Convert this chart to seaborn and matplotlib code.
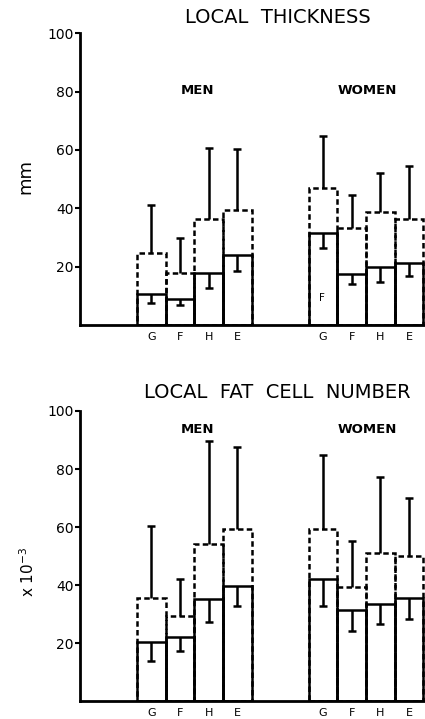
import numpy as np
import pandas as pd
import matplotlib
matplotlib.use("Agg")
import matplotlib.pyplot as plt
import seaborn as sns

# regions, men then women
regions = ["G", "F", "H", "E", "G", "F", "H", "E"]
positions = [2.5, 3.5, 4.5, 5.5, 8.5, 9.5, 10.5, 11.5]

# local thickness (mm): solid = lower value, dashed = upper value
thick_solid = [10.5, 8.8, 17.9, 24.0, 31.4, 17.4, 20.0, 21.1]
thick_solid_low = [7.4, 6.9, 12.8, 18.6, 26.5, 13.9, 14.6, 16.9]
thick_dashed = [24.6, 17.9, 36.5, 39.4, 47.1, 33.1, 38.9, 36.2]
thick_dashed_high = [41.1, 29.7, 60.6, 60.3, 64.9, 44.6, 52.2, 54.6]

# local fat cell number (x 10^-3)
cells_solid = [20.6, 22.0, 35.3, 39.7, 42.2, 31.3, 33.5, 35.5]
cells_solid_low = [13.9, 17.4, 27.2, 32.9, 32.9, 24.4, 26.5, 28.3]
cells_dashed = [35.7, 29.5, 54.2, 59.4, 59.3, 39.4, 51.2, 49.9]
cells_dashed_high = [60.5, 42.0, 89.8, 87.7, 84.8, 55.2, 77.2, 70.2]

sns.set_style("ticks")
plt.rcParams["font.family"] = ["DejaVu Sans"]
for k in ["text.color", "axes.labelcolor", "xtick.color", "ytick.color", "axes.edgecolor"]:
    plt.rcParams[k] = "black"

fig = plt.figure(figsize=(4.25, 7.19), dpi=100)
ax_top = fig.add_axes([0.188, 0.548, 0.8115, 0.4057])
ax_bot = fig.add_axes([0.188, 0.0245, 0.8115, 0.4039])

LW = 1.8


def draw_panel(ax, solid, solid_low, dashed, dashed_high, title, ylabel, label_xy,
               label_size, group_y, title_y):
    df = pd.DataFrame({"x": positions, "solid": solid, "dashed": dashed})
    # dashed (upper) bars first, then solid bars cover the lower part
    sns.barplot(data=df, x="x", y="dashed", native_scale=True, width=1.0,
                color="white", edgecolor="black", linewidth=LW, linestyle=(0, (2.2, 1.3)),
                ax=ax, zorder=2)
    sns.barplot(data=df, x="x", y="solid", native_scale=True, width=1.0,
                color="white", edgecolor="black", linewidth=LW,
                ax=ax, zorder=3)
    for b in ax.patches:
        b.set_facecolor("none")
    # error bars: solid ones go down, dashed ones go up
    cap = 0.14
    ax.vlines(positions, solid_low, solid, color="black", lw=LW, zorder=4)
    ax.hlines(solid_low, np.array(positions) - cap, np.array(positions) + cap,
              color="black", lw=LW, zorder=4)
    ax.vlines(positions, dashed, dashed_high, color="black", lw=LW, zorder=4)
    ax.hlines(dashed_high, np.array(positions) - cap, np.array(positions) + cap,
              color="black", lw=LW, zorder=4)

    ax.set_xlim(0, 12.05)
    ax.set_ylim(0, 100)
    ax.set_yticks([20, 40, 60, 80, 100])
    ax.set_yticklabels(["20", "40", "60", "80", "100"], fontsize=10)
    ax.set_xticks(positions)
    ax.set_xticklabels(regions, fontsize=8)
    ax.tick_params(axis="x", length=0, pad=5)
    ax.tick_params(axis="y", length=3.5, width=1.5, pad=1)
    for s in ["top", "right"]:
        ax.spines[s].set_visible(False)
    ax.spines["left"].set_linewidth(2)
    ax.spines["bottom"].set_linewidth(2)
    ax.set_xlabel("")
    ax.set_ylabel(ylabel, fontsize=label_size)
    ax.yaxis.set_label_coords(*label_xy)
    ax.text(4.1, group_y, "MEN", ha="center", va="center", fontsize=9.5, fontweight="bold")
    ax.text(10.05, group_y, "WOMEN", ha="center", va="center", fontsize=9.5, fontweight="bold")
    ax.text(6.9, title_y, title, ha="center", va="center", fontsize=14)


draw_panel(ax_top, thick_solid, thick_solid_low, thick_dashed, thick_dashed_high,
           "LOCAL  THICKNESS", "mm", (-0.133, 0.51), 13, 80.5, 105.4)
draw_panel(ax_bot, cells_solid, cells_solid_low, cells_dashed, cells_dashed_high,
           "LOCAL  FAT  CELL  NUMBER", r"x 10$^{-3}$", (-0.125, 0.445), 11, 93.5, 106.3)
ax_top.text(8.45, 9.2, "F", ha="center", va="center", fontsize=7.5)

fig.savefig("out.png", dpi=100)
